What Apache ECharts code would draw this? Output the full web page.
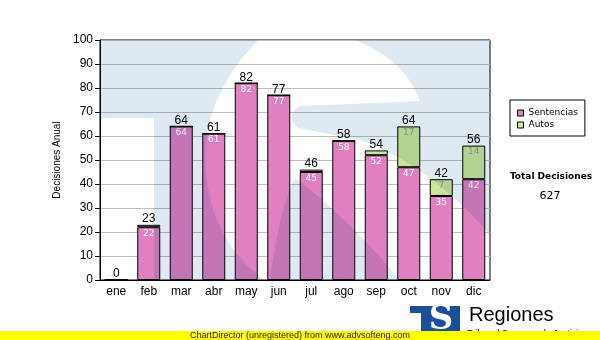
<!DOCTYPE html>
<html>
<head>
<meta charset="utf-8">
<script src="https://cdn.jsdelivr.net/npm/echarts@6/dist/echarts.min.js"></script>
<style>
  html, body { margin: 0; padding: 0; background: #ffffff; }
  #chart { width: 600px; height: 340px; }
</style>
</head>
<body>
<div id="chart"></div>
<script>
// Monthly decisions, split by type
const months = ['ene', 'feb', 'mar', 'abr', 'may', 'jun', 'jul', 'ago', 'sep', 'oct', 'nov', 'dic'];
const sentencias = [0, 22, 64, 61, 82, 77, 45, 58, 52, 47, 35, 42];
const autos = [0, 1, 0, 0, 0, 0, 1, 0, 2, 17, 7, 14];
const seriesNames = ['Sentencias', 'Autos'];
const yTickStep = 10;

const totals = sentencias.map((v, i) => v + autos[i]);
const grandTotal = totals.reduce((a, b) => a + b, 0);

const ARIAL = '"Liberation Sans", Arial, sans-serif';
const VERDANA = '"DejaVu Sans", Verdana, sans-serif';

const PINK = '#e080c0';
const GREEN = '#cce699';

// Outline builder: straight segments ['L', x, y] and quadratic curves ['Q', cx, cy, x, y]
function outline(start, cmds) {
  const pts = [start];
  let cur = start;
  cmds.forEach(c => {
    if (c[0] === 'L') {
      cur = [c[1], c[2]];
      pts.push(cur);
    } else {
      const [cx, cy, x, y] = c.slice(1);
      for (let k = 1; k <= 16; k++) {
        const t = k / 16, u = 1 - t;
        pts.push([u * u * cur[0] + 2 * u * t * cx + t * t * x, u * u * cur[1] + 2 * u * t * cy + t * t * y]);
      }
      cur = [x, y];
    }
  });
  return pts;
}

// Faint logo watermark multiplied over the plot area (blue parts of the "TS" mark)
const watermarkShapes = [
  outline([100, 40], [['L', 258, 40], ['Q', 205, 95, 205, 160], ['Q', 208, 240, 265, 280],
    ['L', 154, 280], ['L', 154, 118], ['L', 100, 118]]),
  outline([355, 40], [['L', 490, 40], ['L', 490, 235], ['Q', 430, 165, 360, 140], ['L', 298, 128],
    ['Q', 284, 116, 300, 106], ['L', 350, 104], ['L', 420, 101], ['Q', 405, 60, 355, 40]]),
  outline([270, 280], [['Q', 280, 205, 295, 178], ['Q', 345, 215, 400, 280]])
];
const watermark = watermarkShapes.map(pts => ({
  type: 'polygon', silent: true, z: 50,
  shape: { points: pts },
  style: { fill: '#dfe9f2', stroke: null, lineWidth: 0, blend: 'multiply' }
}));

const chart = echarts.init(document.getElementById('chart'), null, { renderer: 'canvas' });

chart.setOption({
  animation: false,
  grid: {
    left: 100, top: 40, width: 390, height: 240,
    show: true, borderColor: '#000', borderWidth: 1, backgroundColor: 'transparent'
  },
  legend: {
    data: seriesNames,
    orient: 'vertical',
    left: 510, top: 100,
    padding: [7, 7, 5, 7],
    itemWidth: 6, itemHeight: 6, itemGap: 0, itemTextGap: 4,
    backgroundColor: '#fff', borderColor: '#000', borderWidth: 1, borderRadius: 0,
    icon: 'rect',
    itemStyle: { borderColor: '#000', borderWidth: 1 },
    textStyle: { fontFamily: VERDANA, fontSize: 9, color: '#000', lineHeight: 12 }
  },
  xAxis: {
    type: 'category',
    data: months,
    axisLine: { lineStyle: { color: '#000', width: 1 } },
    axisTick: { alignWithLabel: true, length: 3, lineStyle: { color: '#000' } },
    axisLabel: { fontFamily: ARIAL, fontSize: 12, color: '#000', margin: 6 }
  },
  yAxis: {
    type: 'value',
    min: 0, max: 100, interval: yTickStep,
    name: 'Decisiones Anual',
    nameLocation: 'middle', nameRotate: 90, nameGap: 33,
    nameTextStyle: { fontFamily: ARIAL, fontSize: 10, color: '#000' },
    axisLine: { show: true, lineStyle: { color: '#000', width: 1 } },
    axisTick: { show: true, length: 5, lineStyle: { color: '#000' } },
    axisLabel: { fontFamily: ARIAL, fontSize: 12, color: '#000', margin: 7 },
    splitLine: { show: true, lineStyle: { color: '#bdbdbd', width: 1 } }
  },
  series: [
    {
      name: seriesNames[0], type: 'bar', stack: 'dec', barWidth: 23,
      data: sentencias,
      itemStyle: { color: PINK, borderColor: '#000', borderWidth: 1 },
      label: {
        show: true, position: 'insideTop', distance: 2,
        fontFamily: VERDANA, fontSize: 9, color: '#ffffff',
        formatter: p => (p.value > 0 ? String(p.value) : '')
      }
    },
    {
      name: seriesNames[1], type: 'bar', stack: 'dec', barWidth: 23,
      data: autos,
      itemStyle: { color: GREEN, borderColor: '#000', borderWidth: 1 },
      label: {
        show: true, position: 'insideTop', distance: 2,
        fontFamily: VERDANA, fontSize: 9, color: '#9a9a9a',
        formatter: p => (p.value >= 5 ? String(p.value) : '')
      }
    },
    {
      name: 'Total', type: 'bar', stack: 'dec', barWidth: 23,
      data: totals.map(() => 0),
      itemStyle: { color: 'transparent', borderWidth: 0 },
      label: {
        show: true, position: 'top', distance: 0,
        fontFamily: ARIAL, fontSize: 12, color: '#000',
        formatter: p => String(totals[p.dataIndex])
      }
    }
  ],
  graphic: [
    ...watermark,
    {
      type: 'text', silent: true,
      style: {
        x: 551, y: 177, text: 'Total Decisiones',
        font: 'bold 9px "DejaVu Sans", Verdana, sans-serif', fill: '#000',
        textAlign: 'center', textVerticalAlign: 'middle'
      }
    },
    {
      type: 'text', silent: true,
      style: {
        x: 550, y: 196, text: String(grandTotal),
        font: '11px "DejaVu Sans", Verdana, sans-serif', fill: '#000',
        textAlign: 'center', textVerticalAlign: 'middle'
      }
    },
    // Logo block at the bottom
    { type: 'rect', silent: true, z: 10, shape: { x: 410, y: 306, width: 50, height: 30 }, style: { fill: '#1b4f9c' } },
    { type: 'rect', silent: true, z: 11, shape: { x: 410, y: 313, width: 11, height: 23 }, style: { fill: '#ffffff' } },
    {
      type: 'text', silent: true, z: 12,
      style: {
        x: 441, y: 337, text: 'S',
        font: 'bold 34px "DejaVu Serif", serif', fill: '#ffffff',
        textAlign: 'center', textVerticalAlign: 'bottom'
      }
    },
    {
      type: 'text', silent: true, z: 12,
      style: {
        x: 469, y: 315, text: 'Regiones',
        font: '20px "Liberation Sans", Arial, sans-serif', fill: '#000',
        textAlign: 'left', textVerticalAlign: 'middle'
      }
    },
    {
      type: 'text', silent: true, z: 12,
      style: {
        x: 467, y: 334, text: 'Tribunal Supremo de Justicia',
        font: '9px "Liberation Sans", Arial, sans-serif', fill: '#000',
        textAlign: 'left', textVerticalAlign: 'middle'
      }
    },
    // Footer strip
    { type: 'rect', silent: true, z: 20, shape: { x: 0, y: 331, width: 600, height: 9 }, style: { fill: '#ffff00' } },
    {
      type: 'text', silent: true, z: 21,
      style: {
        x: 300, y: 335.5, text: 'ChartDirector (unregistered) from www.advsofteng.com',
        font: '9px "Liberation Sans", Arial, sans-serif', fill: '#222',
        textAlign: 'center', textVerticalAlign: 'middle'
      }
    }
  ]
});
</script>
</body>
</html>
